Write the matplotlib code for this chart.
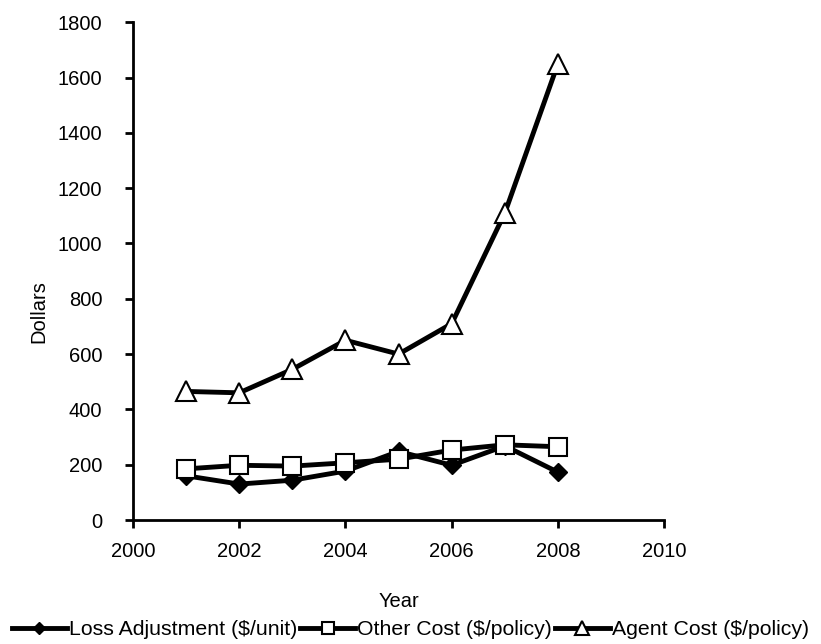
import matplotlib.pyplot as plt

plt.rcParams['font.family'] = ['Liberation Sans', 'DejaVu Sans']

# Datos
years = [2001, 2002, 2003, 2004, 2005, 2006, 2007, 2008]
loss_adjustment = [160, 130, 144, 177, 248, 198, 268, 173]
other_cost = [185, 198, 195, 207, 220, 253, 272, 265]
agent_cost = [465, 460, 545, 650, 600, 710, 1110, 1650]

fig = plt.figure(figsize=(8.21, 6.44), dpi=100)
ax = fig.add_axes([0.162, 0.1925, 0.647, 0.773])

ax.plot(years, loss_adjustment, color='black', linewidth=3.5, marker='D',
        markersize=9, markerfacecolor='black', markeredgecolor='black',
        label='Loss Adjustment ($/unit)', zorder=3)
ax.plot(years, other_cost, color='black', linewidth=3.5, marker='s',
        markersize=13, markerfacecolor='white', markeredgecolor='black',
        markeredgewidth=1.5, label='Other Cost ($/policy)', zorder=4)
ax.plot(years, agent_cost, color='black', linewidth=3.5, marker='^',
        markersize=15, markerfacecolor='white', markeredgecolor='black',
        markeredgewidth=1.5, label='Agent Cost ($/policy)', zorder=5)

ax.set_xlim(2000, 2010)
ax.set_ylim(0, 1800)
ax.set_xticks(range(2000, 2011, 2))
ax.set_yticks(range(0, 1801, 200))

for s in ['top', 'right']:
    ax.spines[s].set_visible(False)
for s in ['left', 'bottom']:
    ax.spines[s].set_linewidth(2)
ax.tick_params(axis='both', width=2, length=6, labelsize=14.5)
ax.tick_params(axis='y', pad=16)
ax.tick_params(axis='x', pad=10)

ax.set_xlabel('Year', fontsize=14.5, labelpad=22)
ax.set_ylabel('Dollars', fontsize=14.5)
ax.yaxis.set_label_coords(-0.16, 0.418)

leg = fig.legend(loc='lower center', bbox_to_anchor=(0.5, -0.012), ncol=3,
                 frameon=False, fontsize=15.3, handlelength=2.6,
                 handletextpad=0.1, columnspacing=0.12, borderaxespad=0.2,
                 markerscale=0.65)

fig.savefig('out.png', dpi=100)
